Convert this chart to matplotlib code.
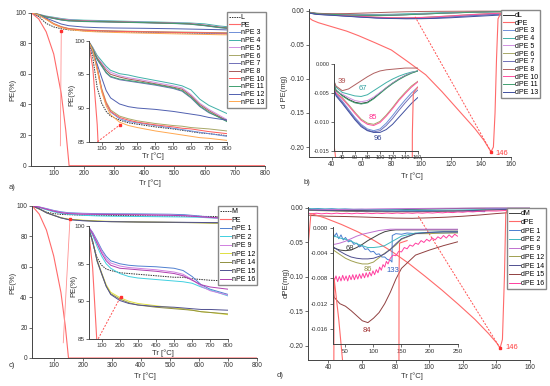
import numpy as np
import matplotlib
matplotlib.use('Agg')
import matplotlib.pyplot as plt
from matplotlib.ticker import FormatStrFormatter
from matplotlib.transforms import Bbox, TransformedBbox

plt.rcParams['font.family'] = ['Liberation Sans', 'DejaVu Sans']
plt.rcParams['axes.unicode_minus'] = False

# ---------------- panel a / c : mass loss, PE(%) vs Tr ----------------
T = [25, 50, 75, 100, 125, 150, 200, 250, 300, 400, 500, 550, 600, 650, 700, 800]
pe_T = [25, 50, 75, 100, 125, 140, 151, 800]
pe_a = [100, 96, 87.5, 73, 47, 23, 0, 0]
pe_c = [100, 94.5, 84, 67, 43, 21, 0, 0]

a_L = [100, 97.5, 93.0, 90.7, 89.5, 88.8, 88.2, 87.8, 87.6, 87.2, 86.9, 86.7, 86.5, 86.3, 86.2, 85.9]
a_3 = [100, 98.6, 95.8, 92.6, 90.6, 89.4, 88.4, 88.0, 87.8, 87.4, 87.0, 86.8, 86.6, 86.4, 86.2, 85.8]
a_4 = [100, 99.0, 97.8, 97.0, 96.2, 95.6, 95.1, 94.9, 94.6, 94.1, 93.6, 93.3, 92.7, 91.3, 90.4, 89.2]
a_5 = [100, 98.9, 97.5, 96.7, 95.9, 95.3, 94.8, 94.5, 94.3, 93.8, 93.3, 93.0, 92.0, 90.7, 89.8, 88.3]
a_6 = [100, 98.7, 96.0, 92.9, 90.9, 89.7, 88.8, 88.4, 88.1, 87.7, 87.4, 87.3, 87.1, 87.0, 86.9, 86.6]
a_7 = [100, 98.7, 97.2, 96.2, 95.2, 94.6, 94.2, 94.0, 93.8, 93.4, 92.9, 92.5, 91.5, 90.2, 89.3, 88.2]
a_8 = [100, 98.8, 97.4, 96.5, 95.6, 95.0, 94.6, 94.3, 94.1, 93.6, 93.1, 92.8, 91.8, 90.5, 89.6, 88.1]
a_10 = [100, 98.6, 95.9, 92.7, 90.7, 89.5, 88.6, 88.2, 87.9, 87.5, 87.2, 87.0, 86.9, 86.7, 86.5, 86.2]
a_11 = [100, 98.7, 97.2, 96.3, 95.3, 94.7, 94.3, 94.1, 93.9, 93.5, 93.0, 92.6, 91.6, 90.3, 89.4, 88.0]
a_12 = [100, 98.2, 96.5, 94.5, 92.6, 91.5, 90.6, 90.2, 90.0, 89.8, 89.5, 89.3, 89.1, 88.9, 88.6, 88.2]
a_13 = [100, 98.5, 95.6, 92.4, 90.3, 89.0, 87.9, 87.4, 87.1, 86.6, 86.2, 86.0, 85.8, 85.6, 85.5, 85.2]

c_M = [100, 97.8, 95.8, 94.8, 94.3, 94.1, 93.8, 93.7, 93.6, 93.4, 93.2, 93.2, 93.0, 92.9, 92.8, 92.7]
c_1 = [100, 99.2, 98.1, 96.9, 96.0, 95.4, 95.0, 94.8, 94.7, 94.6, 94.4, 94.1, 93.3, 92.2, 91.6, 90.9]
c_2 = [100, 98.8, 97.3, 96.0, 95.0, 94.4, 93.7, 93.3, 93.1, 92.9, 92.7, 92.6, 92.4, 91.9, 91.5, 90.7]
c_9 = [100, 99.1, 97.9, 96.7, 95.7, 95.1, 94.7, 94.5, 94.4, 94.2, 93.9, 93.6, 92.9, 92.0, 91.4, 90.8]
c_12 = [100, 98.0, 95.5, 93.8, 92.2, 91.2, 90.5, 90.0, 89.7, 89.4, 89.1, 89.0, 88.8, 88.6, 88.5, 88.2]
c_14 = [100, 98.0, 95.3, 93.6, 92.0, 91.0, 90.3, 89.8, 89.5, 89.2, 89.0, 88.9, 88.8, 88.6, 88.5, 88.3]
c_15 = [100, 98.0, 95.4, 93.7, 92.0, 90.9, 90.1, 89.7, 89.5, 89.3, 89.2, 89.1, 89.0, 88.9, 88.9, 88.8]
c_16 = [100, 99.0, 97.7, 96.4, 95.4, 94.8, 94.4, 94.3, 94.2, 94.0, 93.7, 93.4, 92.8, 92.2, 91.9, 91.6]

# pointer lines (zoom indicators)
ptr_a = ([122, 125], [13, 88])
ptr_c = ([133, 156], [10, 91])
ptr_ai = ([76.5, 202], [85, 87.5])
ptr_ci = ([81, 205], [85, 90.6])

# ---------------- panel b : derivative ----------------
Tb = [25, 30, 40, 50, 60, 70, 80, 90, 100, 110, 120, 130, 140, 150, 160]
b_L = [-0.0028, -0.0045, -0.0054, -0.0061, -0.0066, -0.0068, -0.0066, -0.0059, -0.0050, -0.0041, -0.0033, -0.0026, -0.0020, -0.0015, -0.0012]
b_3 = [-0.0034, -0.0052, -0.0064, -0.0078, -0.0092, -0.0104, -0.0112, -0.0115, -0.0112, -0.0102, -0.0089, -0.0075, -0.0062, -0.0050, -0.0040]
b_4 = [-0.0022, -0.0040, -0.0049, -0.0052, -0.0055, -0.0056, -0.0053, -0.0046, -0.0039, -0.0032, -0.0026, -0.0021, -0.0017, -0.0014, -0.0012]
b_5 = [-0.0030, -0.0047, -0.0052, -0.0058, -0.0063, -0.0065, -0.0063, -0.0057, -0.0049, -0.0041, -0.0033, -0.0026, -0.0020, -0.0015, -0.0012]
b_6 = [-0.0033, -0.0050, -0.0058, -0.0070, -0.0083, -0.0095, -0.0102, -0.0104, -0.0099, -0.0088, -0.0075, -0.0061, -0.0049, -0.0038, -0.0030]
b_7 = [-0.0035, -0.0053, -0.0066, -0.0080, -0.0094, -0.0106, -0.0114, -0.0117, -0.0115, -0.0106, -0.0094, -0.0080, -0.0067, -0.0055, -0.0045]
b_8 = [-0.0025, -0.0038, -0.0046, -0.0043, -0.0036, -0.0029, -0.0022, -0.0016, -0.0012, -0.0010, -0.0009, -0.0008, -0.0007, -0.0007, -0.0007]
b_10 = [-0.0032, -0.0050, -0.0060, -0.0072, -0.0085, -0.0097, -0.0104, -0.0106, -0.0101, -0.0090, -0.0077, -0.0063, -0.0051, -0.0040, -0.0031]
b_11 = [-0.0030, -0.0046, -0.0055, -0.0062, -0.0067, -0.0069, -0.0067, -0.0060, -0.0051, -0.0042, -0.0034, -0.0027, -0.0021, -0.0016, -0.0012]
b_13 = [-0.0036, -0.0055, -0.0068, -0.0082, -0.0096, -0.0108, -0.0115, -0.0118, -0.0118, -0.0113, -0.0104, -0.0092, -0.0080, -0.0068, -0.0058]
dpe_bx = [24.5, 27, 31, 40, 50, 58, 69, 80, 91, 103, 114, 125, 136, 142, 146.8, 148.4, 149.5, 150.5, 151.5, 153, 160]
dpe_by = [-0.010, -0.014, -0.0176, -0.0235, -0.030, -0.0367, -0.047, -0.0577, -0.0748, -0.094, -0.119,
          -0.146, -0.173, -0.190, -0.207, -0.200, -0.150, -0.070, -0.012, -0.005, -0.004]
ptr_b_end = (95.9, -0.009)

# ---------------- panel d : derivative ----------------
Td = [25, 30, 40, 50, 60, 70, 80, 90, 100, 110, 120, 130, 140, 150, 175, 200, 225, 250]
d_M = [-0.0030, -0.0032, -0.0035, -0.0036, -0.0035, -0.0031, -0.0026, -0.0020, -0.0015, -0.0010, -0.0006, -0.0004, -0.0003, -0.0003, -0.0003, -0.0003, -0.0003, -0.0003]
d_2 = [-0.0010, -0.0013, -0.0016, -0.0018, -0.0021, -0.0025, -0.0028, -0.0031, -0.0031, -0.0030, -0.0028, -0.0023, -0.0018, -0.0013, -0.0008, -0.0007, -0.0006, -0.0006]
d_9 = [-0.0024, -0.0026, -0.0024, -0.0021, -0.0017, -0.0013, -0.0010, -0.0008, -0.0006, -0.0004, -0.0003, -0.0002, -0.0002, -0.0002, -0.0002, -0.0002, -0.0002, -0.0002]
d_12 = [-0.0030, -0.0036, -0.0042, -0.0048, -0.0052, -0.0055, -0.0057, -0.0057, -0.0054, -0.0047, -0.0040, -0.0034, -0.0027, -0.0018, -0.0009, -0.0009, -0.0008, -0.0008]
d_14 = [-0.0028, -0.0031, -0.0037, -0.0042, -0.0046, -0.0048, -0.0049, -0.0049, -0.0048, -0.0045, -0.0041, -0.0034, -0.0025, -0.0017, -0.0009, -0.0007, -0.0006, -0.0006]
d_15 = [-0.0090, -0.0110, -0.0120, -0.0124, -0.0131, -0.0139, -0.0147, -0.0150, -0.0143, -0.0134, -0.0120, -0.0102, -0.0081, -0.0064, -0.0043, -0.0035, -0.0028, -0.0022]
d1_x = [27, 30, 34, 38, 42, 46, 50, 55, 60, 65, 70, 75, 80, 85, 90, 95, 100, 105, 110, 115, 120, 125, 130,
        133, 133.5, 140, 150, 160, 175, 200, 225, 250]
d_1 = [-0.0003, -0.0014, -0.0008, -0.0017, -0.0011, -0.0019, -0.0015, -0.0022, -0.0020, -0.0026, -0.0024,
       -0.0030, -0.0028, -0.0034, -0.0033, -0.0038, -0.0037, -0.0042, -0.0041, -0.0046, -0.0046, -0.0050,
       -0.0051, -0.0054, -0.0012, -0.0009, -0.0010, -0.0008, -0.0009, -0.0007, -0.0008, -0.0007]
d16_x = [25, 27] + list(range(30, 127, 3)) + list(range(130, 251, 5))
d_16 = [-0.0062, -0.0070,
        -0.0084, -0.0076, -0.0085, -0.0077, -0.0084, -0.0075, -0.0083, -0.0076, -0.0084, -0.0075, -0.0082,
        -0.0074, -0.0082, -0.0074, -0.0081, -0.0073, -0.0080, -0.0072, -0.0079, -0.0071, -0.0078, -0.0070,
        -0.0076, -0.0068, -0.0074, -0.0066, -0.0071, -0.0062, -0.0067, -0.0058, -0.0062, -0.0053, -0.0057,
        -0.0048, -0.0043, -0.0044, -0.0037, -0.0038, -0.0031, -0.0033, -0.0027, -0.0029, -0.0024, -0.0026,
        -0.0020, -0.0023, -0.0018, -0.0021, -0.0016, -0.0019, -0.0014, -0.0017, -0.0012, -0.0016, -0.0011,
        -0.0015, -0.0010, -0.0013]
dpe_dx = [28, 29.7, 38, 47.9, 57.9, 67.8, 77.7, 87.6, 97.5, 107.5, 117.4, 127.3, 135.2, 140.2, 142.2,
          143.6, 144.8, 145.6, 146.5, 160]
dpe_dy = [-0.055, -0.008, -0.0145, -0.024, -0.035, -0.048, -0.063, -0.080, -0.099, -0.119, -0.140,
          -0.162, -0.182, -0.196, -0.2034, -0.191, -0.099, -0.007, -0.0024, -0.002]
ptr_d_end = (93.6, -0.012)

RED = '#ff6a6a'
W, H = 550, 386
fig = plt.figure(figsize=(5.5, 3.86), dpi=100)


def box(l, t, r, b):
    return [l / W, 1 - b / H, (r - l) / W, (b - t) / H]


def style(ax, size=4.7):
    for s in ('top', 'right'):
        ax.spines[s].set_visible(False)
    for s in ('left', 'bottom'):
        ax.spines[s].set_linewidth(0.7)
        ax.spines[s].set_color('#444444')
    ax.tick_params(labelsize=size, length=2, width=0.5, pad=1.2, colors='#333333')
    ax.patch.set_alpha(0)


def ext_clip(line, l, t, r, b):
    line.set_clip_path(None)
    line.set_clip_box(TransformedBbox(Bbox.from_extents(l / W, 1 - b / H, r / W, 1 - t / H), fig.transFigure))


def legend(handles, labels, l, t, spacing):
    fig.legend(handles, labels, loc='upper left', bbox_to_anchor=(l / W, 1 - t / H),
               bbox_transform=fig.transFigure, fontsize=5, frameon=True, fancybox=False,
               edgecolor='#888888', framealpha=1, borderpad=0.3, labelspacing=spacing,
               handlelength=1.5, handletextpad=0.15, borderaxespad=0)


# ===== a =====
a_series = [('L', a_L, '#333333', (0, (1.5, 1))), ('nPE 3', a_3, '#6f8fd8', '-'), ('nPE 4', a_4, '#40b0a8', '-'),
            ('nPE 5', a_5, '#d090e0', '-'), ('nPE 6', a_6, '#a8a868', '-'), ('nPE 7', a_7, '#7070b8', '-'),
            ('nPE 8', a_8, '#a85858', '-'), ('nPE 10', a_10, '#ff5a5a', '-'), ('nPE 11', a_11, '#40a070', '-'),
            ('nPE 12', a_12, '#5060b0', '-'), ('nPE 13', a_13, '#ffa850', '-')]

axA = fig.add_axes(box(31.1, 12.7, 264.9, 165.7))
axAi = fig.add_axes(box(89.2, 40.7, 226.7, 141.7))
for ax in (axA, axAi):
    lines = {}
    for name, vals, col, ls in a_series:
        lines[name] = ax.plot(T, vals, color=col, ls=ls, lw=0.7)[0]
    lines['PE'] = ax.plot(pe_T, pe_a, color=RED, lw=0.8)[0]
    if ax is axA:
        lA = ['L', 'PE'] + [s[0] for s in a_series[1:]]
        hA = [lines[k] for k in lA]
axA.plot(ptr_a[0], ptr_a[1], color='#ff9090', lw=0.6)
axA.plot(ptr_a[0][1], ptr_a[1][1], 's', color='#ff3030', ms=1.8)
axAi.plot(ptr_ai[0], ptr_ai[1], color='#ff5050', lw=0.7, ls=(0, (2, 1.5)))
axAi.plot(ptr_ai[0][1], ptr_ai[1][1], 's', color='#ff3030', ms=1.8)
axA.set_xlim(25, 800)
axA.set_ylim(0, 100)
axA.set_xticks(range(100, 801, 100))
axA.set_yticks(range(0, 101, 20))
axAi.set_xlim(30, 800)
axAi.set_ylim(85, 100)
axAi.set_xticks(range(100, 801, 100))
axAi.set_yticks([85, 90, 95, 100])
style(axA)
style(axAi, 4.5)
legend(hA, lA, 227, 12, 0.1)

# ===== b =====
b_series = [('dL', b_L, '#333333'), ('dPE 3', b_3, '#6f8fd8'), ('dPE 4', b_4, '#40b0a8'),
            ('dPE 5', b_5, '#d090e0'), ('dPE 6', b_6, '#a8a868'), ('dPE 7', b_7, '#7070b8'),
            ('dPE 8', b_8, '#b06060'), ('dPE 10', b_10, '#ff50a0'), ('dPE 11', b_11, '#40a070'),
            ('dPE 13', b_13, '#4050a0')]
axB = fig.add_axes(box(308.6, 9.3, 510.7, 156.5))
axBi = fig.add_axes(box(334.1, 64, 417.7, 151))
for ax in (axB, axBi):
    lines = {}
    for name, vals, col in b_series:
        lines[name] = ax.plot(Tb, vals, color=col, lw=0.7)[0]
    lines['dPE'] = ax.plot(dpe_bx, dpe_by, color=RED, lw=0.8)[0]
    if ax is axB:
        lB = ['dL', 'dPE'] + [s[0] for s in b_series[1:]]
        hB = [lines[k] for k in lB]
    else:
        ext_clip(lines['dPE'], 334.1, 64, 417.7, 156.5)
imin = int(np.argmin(dpe_by))
axB.plot([dpe_bx[imin], ptr_b_end[0]], [dpe_by[imin], ptr_b_end[1]], color='#ff5050', lw=0.7, ls=(0, (2, 1.5)))
axB.plot(dpe_bx[imin], dpe_by[imin], 's', color='#ff3030', ms=1.8)
axB.text(154, -0.2092, '146', color='#ff4040', fontsize=5.5, ha='center', va='center')
axB.set_xlim(24.5, 160)
axB.set_ylim(-0.2139, 0.002)
axB.set_xticks(range(40, 161, 20))
axB.set_yticks([0, -0.05, -0.10, -0.15, -0.20])
axB.yaxis.set_major_formatter(FormatStrFormatter('%.2f'))
axBi.set_xlim(27, 160)
axBi.set_ylim(-0.015, 0.0)
axBi.set_xticks(range(40, 161, 20))
axBi.set_yticks([0, -0.005, -0.010, -0.015])
axBi.yaxis.set_major_formatter(FormatStrFormatter('%.3f'))
for txt, x, y, col in [('39', 40, -0.0031, '#b05050'), ('67', 73.5, -0.0042, '#30a0a0'),
                       ('85', 89.4, -0.0093, '#ff3090'), ('96', 97.3, -0.0129, '#304090')]:
    axBi.text(x, y, txt, color=col, fontsize=5.5, ha='center', va='center')
style(axB)
style(axBi, 4.0)
legend(hB, lB, 501, 10, 0.1)

# ===== c =====
c_series = [('M', c_M, '#333333', (0, (1.5, 1))), ('nPE 1', c_1, '#5080d0', '-'), ('nPE 2', c_2, '#40d0e0', '-'),
            ('nPE 9', c_9, '#d080e0', '-'), ('nPE 12', c_12, '#e0e040', '-'), ('nPE 14', c_14, '#909040', '-'),
            ('nPE 15', c_15, '#505090', '-'), ('nPE 16', c_16, '#b040b0', '-')]
axC = fig.add_axes(box(31.95, 205.7, 256.7, 358))
axCi = fig.add_axes(box(89.0, 226.3, 228.3, 338.7))
for ax in (axC, axCi):
    lines = {}
    for name, vals, col, ls in c_series:
        lines[name] = ax.plot(T, vals, color=col, ls=ls, lw=0.7)[0]
    lines['PE'] = ax.plot(pe_T, pe_c, color=RED, lw=0.8)[0]
    if ax is axC:
        lC = ['M', 'PE'] + [s[0] for s in c_series[1:]]
        hC = [lines[k] for k in lC]
axC.plot(ptr_c[0], ptr_c[1], color='#ff9090', lw=0.6)
axC.plot(ptr_c[0][1], ptr_c[1][1], 's', color='#ff3030', ms=1.8)
axCi.plot(ptr_ci[0], ptr_ci[1], color='#ff5050', lw=0.7, ls=(0, (2, 1.5)))
axCi.plot(ptr_ci[0][1], ptr_ci[1][1], 's', color='#ff3030', ms=1.8)
axC.set_xlim(25, 800)
axC.set_ylim(0, 100)
axC.set_xticks(range(100, 801, 100))
axC.set_yticks(range(0, 101, 20))
axCi.set_xlim(30, 800)
axCi.set_ylim(85, 100)
axCi.set_xticks(range(100, 801, 100))
axCi.set_yticks([85, 90, 95, 100])
style(axC)
style(axCi, 4.5)
legend(hC, lC, 218, 206, 0.22)

# ===== d =====
d_series = [('dM', Td, d_M, '#404040'), ('dPE 1', d1_x, d_1, '#4a7fd0'), ('dPE 2', Td, d_2, '#40b8c0'),
            ('dPE 9', Td, d_9, '#c070d0'), ('dPE 12', Td, d_12, '#a0a050'), ('dPE 14', Td, d_14, '#505090'),
            ('dPE 15', Td, d_15, '#904040'), ('dPE 16', d16_x, d_16, '#ff40a0')]
axD = fig.add_axes(box(308.1, 206.6, 530, 359.8))
axDi = fig.add_axes(box(332.6, 226.7, 457.5, 344.1))
for ax in (axD, axDi):
    lines = {}
    for name, xs, vals, col in d_series:
        lines[name] = ax.plot(xs, vals, color=col, lw=0.7)[0]
    lines['dPE'] = ax.plot(dpe_dx, dpe_dy, color=RED, lw=0.8)[0]
    if ax is axD:
        lD = ['dM', 'dPE'] + [s[0] for s in d_series[1:]]
        hD = [lines[k] for k in lD]
    else:
        ext_clip(lines['dPE'], 332.6, 226.7, 457.5, 359.8)
imin = int(np.argmin(dpe_dy))
axD.plot([dpe_dx[imin], ptr_d_end[0]], [dpe_dy[imin], ptr_d_end[1]], color='#ff5050', lw=0.7, ls=(0, (2, 1.5)))
axD.plot(dpe_dx[imin], dpe_dy[imin], 's', color='#ff3030', ms=1.8)
axD.text(149, -0.2033, '146', color='#ff4040', fontsize=5.5, ha='center', va='center')
axD.set_xlim(28, 160)
axD.set_ylim(-0.2205, 0.002)
axD.set_xticks(range(40, 161, 20))
axD.set_yticks([0, -0.05, -0.10, -0.15, -0.20])
axD.yaxis.set_major_formatter(FormatStrFormatter('%.2f'))
axDi.set_xlim(27, 250)
axDi.set_ylim(-0.0184, 0.0002)
axDi.set_xticks(range(50, 251, 50))
axDi.set_yticks([0, -0.004, -0.008, -0.012, -0.016])
axDi.yaxis.set_major_formatter(FormatStrFormatter('%.3f'))
for txt, x, y, col in [('68', 58, -0.0033, '#404040'), ('86', 89.7, -0.0066, '#909040'),
                       ('133', 134.3, -0.0067, '#3060c0'), ('84', 89, -0.0163, '#a03030')]:
    axDi.text(x, y, txt, color=col, fontsize=5.5, ha='center', va='center')
style(axD)
style(axDi, 4.4)
legend(hD, lD, 507, 208, 0.25)

# ===== axis labels and panel letters =====
fs = 5.5
for x, y, s, rot in [(150, 183, 'Tr [°C]', 0), (13, 90, 'PE(%)', 90), (153, 155.7, 'Tr [°C]', 0),
                     (71.7, 95, 'PE(%)', 90), (411.7, 175.7, 'Tr [°C]', 0), (285, 91.7, 'd PE(mg)', 90),
                     (145, 375.7, 'Tr [°C]', 0), (13, 283, 'PE(%)', 90), (163, 353.5, 'Tr [°C]', 0),
                     (74, 286, 'PE(%)', 90), (411.7, 376.5, 'Tr [°C]', 0), (286, 283, 'dPE(mg)', 90)]:
    fig.text(x / W, 1 - y / H, s, fontsize=fs, rotation=rot, ha='center', va='center', color='#333333')
for x, y, s in [(12, 188, 'a)'), (306.7, 182.7, 'b)'), (12, 365.7, 'c)'), (280.5, 375.7, 'd)')]:
    fig.text(x / W, 1 - y / H, s, fontsize=fs, ha='center', va='center', color='#333333')

fig.savefig('out.png', dpi=100)
